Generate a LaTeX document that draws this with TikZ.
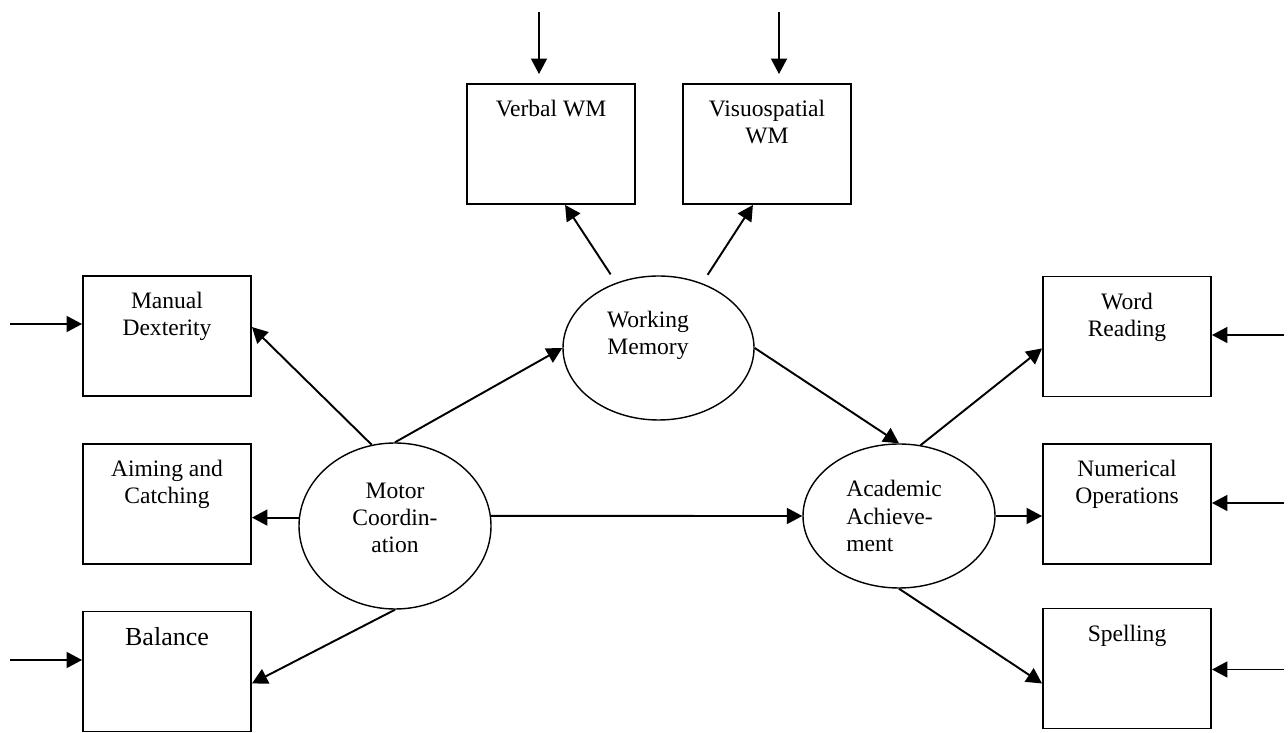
\documentclass[tikz,border=0pt]{standalone}
\usepackage{fontspec}
\setmainfont{Liberation Serif}
\usetikzlibrary{shapes,arrows.meta}

\begin{document}
\begin{tikzpicture}[>={Triangle[length=0.31cm,width=0.32cm]}, font=\fontsize{13.4}{15.4}\selectfont]
    \tikzstyle{obox} = [line width=1.1pt, draw, rectangle, minimum width=3.36cm, minimum height=2.4cm, inner sep=0pt]
    \tikzstyle{lnode} = [thick, draw, ellipse, minimum width=3.84cm, minimum height=2.88cm, inner sep=0pt]
    \tikzstyle{btxt} = [anchor=north, align=center, inner sep=0pt, yshift=-0.34cm]
    \tikzstyle{etxt} = [anchor=center, align=center, inner sep=0pt]
    \tikzstyle{conn} = [line width=1.1pt, ->]
    \useasboundingbox (0,0) rectangle (25.76,14.64);

    % latent variables
    \node[lnode, minimum width=3.82cm, label={[etxt, xshift=-0.21cm, yshift=0.25cm]center:Working\\Memory}] (wm) at (13.17,7.68) {};
    \node[lnode, minimum height=3.32cm, label={[etxt, yshift=0.16cm]center:Motor\\Coordin-\\ation}] (mc) at (7.90,4.12) {};
    \node[lnode, label={[etxt, align=left, xshift=-0.1cm]center:Academic\\Achieve-\\ment}] (aa) at (17.98,4.32) {};

    % indicators
    \node[obox, label={[btxt]north:Manual\\Dexterity}] (md) at (3.34,7.92) {};
    \node[obox, label={[btxt]north:Aiming and\\Catching}] (ac) at (3.34,4.56) {};
    \node[obox, label={[btxt, font=\fontsize{14.8}{17}\selectfont]north:Balance}] (bal) at (3.34,1.21) {};
    \node[obox, label={[btxt]north:Verbal WM}] (vwm) at (11.02,11.76) {};
    \node[obox, label={[btxt]north:Visuospatial\\WM}] (vsw) at (15.34,11.76) {};
    \node[obox, label={[btxt]north:Word\\Reading}] (wr) at (22.54,7.91) {};
    \node[obox, label={[btxt]north:Numerical\\Operations}] (no) at (22.54,4.56) {};
    \node[obox, label={[btxt]north:Spelling}] (sp) at (22.54,1.27) {};

    \coordinate (ev) at (10.78,14.40);
    \coordinate (es) at (15.58,14.40);
    \coordinate (emd) at (0.20,8.16);
    \coordinate (ebal) at (0.20,1.44);
    \coordinate (ewr) at (25.68,7.94);
    \coordinate (eno) at (25.68,4.58);
    \coordinate (esp) at (25.68,1.25);

    \draw[conn, shorten >=0.18cm] (ev) -- (ev |- vwm.north);
    \draw[conn, shorten >=0.18cm] (es) -- (es |- vsw.north);
    \draw[conn] (emd) -- (emd -| md.west);
    \draw[conn] (ebal) -- (ebal -| bal.west);
    \draw[conn] (ewr) -- (ewr -| wr.east);
    \draw[conn] (eno) -- (eno -| no.east);
    \draw[conn] (esp) -- (esp -| sp.east);

    \draw[conn, shorten <=0.2cm] (wm.123) -- (vwm.283);
    \draw[conn, shorten <=0.2cm] (wm.56) -- (vsw.257);
    \draw[conn] (mc.north) -- (wm.west);
    \draw[conn] (wm.east) -- (aa.north);
    \draw[conn] (mc.6) -- (aa.west);
    \draw[conn] (mc.106) -- (md.6);
    \draw[conn] (mc.175) -- (mc.175 -| ac.east);
    \draw[conn] (mc.south) -- (bal.352);
    \draw[conn] (aa.73) -- (wr.188);
    \draw[conn] (aa.east) -- (aa.east -| no.west);
    \draw[conn] (aa.south) -- (sp.190);
\end{tikzpicture}
\end{document}
